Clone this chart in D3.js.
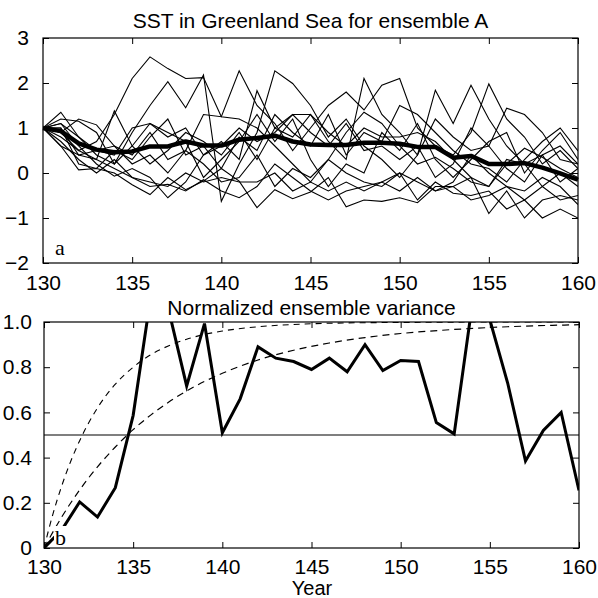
<!DOCTYPE html>
<html>
<head>
<meta charset="utf-8">
<script src="https://cdn.jsdelivr.net/npm/d3@7.9.0/dist/d3.min.js"></script>
<style>
  body { margin: 0; background: #fff; }
  svg { display: block; }
  .tick text { font-family: "Liberation Sans", Arial, sans-serif; font-size: 21px; fill: #000; }
  .domain { display: none; }
</style>
</head>
<body>
<svg id="chart" width="598" height="598"></svg>
<script>
// years 130..160
const years = d3.range(130, 161);

// ensemble members (SST anomaly)
const member1  = [1, 0.8, 0.5, 0.7, 1.3, 2.1, 2.58, 2.32, 2.1, 2.12, 1.25, 1.2, 1.0, 0.6, 0.2, -0.2, 0.3, 0.9, 1.35, 1.1, 0.6, 0.2, 0.35, 0.1, -0.2, -0.3, 0.2, 0.55, 0.35, 0.1, -0.1];
const member2  = [1, 1.35, 0.8, 0.4, 0.2, 0.9, 1.5, 2.03, 1.45, 2.18, -0.63, 0.2, 0.9, 2.27, 1.99, 1.5, 0.8, 1.2, 0.6, 0.3, -0.1, 0.4, 1.2, 0.8, 0.5, 0.6, 1.44, 1.3, 0.9, 0.3, 0.2];
const member3  = [1, 0.9, 1.2, 1.07, 0.6, 0.4, 0.9, 0.3, 0.5, 1.3, 1.25, 2.27, 1.5, 1.1, 0.5, 1.0, 1.5, 1.8, 1.4, 1.95, 2.1, 1.0, 0.6, 0.4, 0.9, 1.98, 1.2, 0.8, 0.2, 0.5, 0.1];
const member4  = [1, 1.1, 0.6, 0.2, -0.07, 0.1, -0.1, -0.55, -0.2, 0.4, 0.7, 0.3, 1.83, 1.0, 0.8, 1.3, 0.7, 0.3, 2.1, 1.3, 0.9, 0.4, 1.84, 1.1, 1.95, 1.2, 0.6, 0.2, -0.3, 0.0, -0.3];
const member5  = [1, 0.6, 0.07, 0.1, 0.0, -0.26, -0.48, -0.1, -0.37, -0.18, 0.1, -0.18, -0.77, -0.37, -0.57, -0.42, -0.1, -0.75, -0.6, -0.63, -0.55, -0.66, -0.3, -0.3, -0.1, -0.9, -0.4, -1.0, -0.6, -0.5, -0.6];
const member6  = [1, 0.7, 0.3, 0.0, 0.3, -0.1, -0.2, -0.3, 0.0, -0.2, -0.1, -0.2, -0.2, 0.0, -0.4, -0.2, -0.4, -0.2, -0.4, -0.2, 0.0, -0.6, -0.2, -0.45, -0.5, -0.4, -0.8, -0.6, -1.0, -0.8, -1.0];
const member7  = [1, 1.0, 0.2, 0.1, 0.5, 0.3, 0.8, 1.2, 0.4, 0.6, 0.1, 0.8, 0.5, 1.3, 0.9, 0.6, 1.3, 0.4, 0.9, 0.7, 1.5, 1.3, 0.9, 0.5, 0.2, 0.1, -0.2, 0.3, 0.7, 1.0, 0.49];
const member8  = [1, 1.2, 1.15, 0.9, 0.2, 0.6, 1.1, 0.9, 0.7, -0.1, 0.3, 0.7, 1.3, 0.7, 1.2, 0.3, -0.3, 0.2, 0.0, 0.9, 0.5, 1.1, 0.3, -0.1, 0.3, 0.7, 0.9, 0.0, 0.5, 0.9, 0.3];
const member9  = [1, 0.9, 0.5, 0.3, 1.38, 0.6, 0.2, 0.5, 0.9, 0.7, 0.4, 0.9, 0.3, 1.0, 1.3, 0.9, 0.6, 1.1, 0.5, 0.6, 0.3, 0.6, -0.1, 0.2, 1.0, 0.6, 0.1, -0.2, 0.4, 0.6, 0.2];
const member10 = [1, 1.1, 0.8, 0.5, 0.6, 0.2, 0.4, 0.0, 0.5, 0.2, -0.2, -0.1, 0.4, -0.3, 0.1, -0.1, 0.3, 0.0, -0.2, -0.3, 0.0, -0.2, -0.4, -0.2, 0.4, 0.0, -0.3, -0.4, -0.1, -0.3, -0.7];
const member11 = [1, 0.6, 0.4, 0.3, 0.1, -0.1, -0.3, -0.25, -0.4, -0.15, -0.4, -0.55, -0.3, 0.2, -0.1, -0.4, -0.6, -0.4, -0.3, -0.2, -0.4, -0.1, -0.4, -0.3, -0.6, -0.5, -0.3, -0.6, -0.3, -0.6, -0.5];
const member12 = [1, 1.0, 0.4, 0.5, 0.4, 1.0, 1.1, 0.8, 1.0, 0.4, 0.6, 1.0, 0.7, 0.9, 1.3, 1.3, 0.9, 0.6, 1.0, 0.8, 0.8, 0.9, 0.7, 0.3, -0.1, -0.3, 0.3, 0.2, 0.4, -0.2, 0.1];
const members = [member1, member2, member3, member4, member5, member6, member7, member8, member9, member10, member11, member12];

// ensemble mean (thick line)
const ensMean = [1.0, 0.93, 0.66, 0.52, 0.46, 0.48, 0.59, 0.59, 0.70, 0.61, 0.61, 0.74, 0.78, 0.83, 0.70, 0.635, 0.62, 0.62, 0.67, 0.67, 0.65, 0.58, 0.58, 0.34, 0.38, 0.20, 0.20, 0.22, 0.12, -0.01, -0.15];

// normalized ensemble variance
const variance = [0, 0.08, 0.204, 0.137, 0.267, 0.587, 1.12, 1.05, 0.717, 0.993, 0.51, 0.66, 0.89, 0.84, 0.825, 0.79, 0.84, 0.78, 0.90, 0.785, 0.83, 0.825, 0.555, 0.505, 1.07, 1.01, 0.73, 0.385, 0.52, 0.60, 0.255];

// dashed reference curves (year, value)
const curveFastYears = [130, 130.5, 131, 131.5, 132, 133, 134, 135, 136, 137, 138, 139, 140, 142, 144, 147, 150, 155, 160];
const curveFastVals  = [0, 0.15, 0.276, 0.384, 0.475, 0.62, 0.725, 0.80, 0.856, 0.895, 0.924, 0.945, 0.96, 0.979, 0.989, 0.996, 0.998, 1.0, 1.0];
const curveSlowYears = [130, 131, 132, 133, 134, 135, 136, 137, 138, 139, 140, 142, 144, 146, 148, 150, 153, 156, 160];
const curveSlowVals  = [0, 0.138, 0.257, 0.359, 0.447, 0.524, 0.589, 0.646, 0.695, 0.737, 0.773, 0.832, 0.875, 0.907, 0.931, 0.949, 0.967, 0.979, 0.988];

const xTicks = [130, 135, 140, 145, 150, 155, 160];
const yTicksTop = [-2, -1, 0, 1, 2, 3];
const yTicksBot = [0, 0.2, 0.4, 0.6, 0.8, 1.0];

const svg = d3.select("#chart");

// ---------- panel a ----------
const xA = d3.scaleLinear().domain([130, 160]).range([43, 578]);
const yA = d3.scaleLinear().domain([-2, 3]).range([263, 38]);

const gA = svg.append("g");
gA.append("clipPath").attr("id", "clipA")
  .append("rect").attr("x", 43).attr("y", 38).attr("width", 535).attr("height", 225);

const lineA = d3.line().x((d, i) => xA(years[i])).y(d => yA(d));

gA.append("g").attr("clip-path", "url(#clipA)")
  .selectAll("path.member")
  .data(members)
  .enter()
  .append("path")
  .attr("class", "member")
  .attr("d", lineA)
  .attr("fill", "none")
  .attr("stroke", "#000")
  .attr("stroke-width", 1.1)
  .attr("stroke-linejoin", "miter");

gA.append("path")
  .attr("d", lineA(ensMean))
  .attr("fill", "none")
  .attr("stroke", "#000")
  .attr("stroke-width", 4.5)
  .attr("stroke-linejoin", "round");

// axes with inward ticks
gA.append("g").attr("transform", `translate(0,${yA(-2)})`)
  .call(d3.axisBottom(xA).tickValues(xTicks).tickSizeInner(-6).tickSizeOuter(0).tickPadding(12));
gA.append("g").attr("transform", `translate(0,${yA(3)})`)
  .call(d3.axisTop(xA).tickValues(xTicks).tickSizeInner(-6).tickSizeOuter(0).tickFormat(""));
gA.append("g").attr("transform", `translate(${xA(130)},0)`)
  .call(d3.axisLeft(yA).tickValues(yTicksTop).tickSizeInner(-6).tickSizeOuter(0).tickPadding(14).tickFormat(d3.format("d")));
gA.append("g").attr("transform", `translate(${xA(160)},0)`)
  .call(d3.axisRight(yA).tickValues(yTicksTop).tickSizeInner(-6).tickSizeOuter(0).tickFormat(""));

gA.append("rect")
  .attr("x", xA(130)).attr("y", yA(3))
  .attr("width", xA(160) - xA(130)).attr("height", yA(-2) - yA(3))
  .attr("fill", "none").attr("stroke", "#000").attr("stroke-width", 1.2);

svg.append("text")
  .attr("x", (xA(130) + xA(160)) / 2).attr("y", 28)
  .attr("text-anchor", "middle")
  .style("font-family", "Liberation Sans, Arial, sans-serif")
  .style("font-size", "21px")
  .text("SST in Greenland Sea for ensemble A");

svg.append("text")
  .attr("x", 55).attr("y", 255)
  .style("font-family", "Liberation Serif, Times New Roman, serif")
  .style("font-size", "22px")
  .text("a");

// ---------- panel b ----------
const xB = d3.scaleLinear().domain([130, 160]).range([44, 579]);
const yB = d3.scaleLinear().domain([0, 1]).range([548, 322]);

const gB = svg.append("g");
gB.append("clipPath").attr("id", "clipB")
  .append("rect").attr("x", 44).attr("y", 322).attr("width", 535).attr("height", 226);

const plotB = gB.append("g").attr("clip-path", "url(#clipB)");

plotB.append("line")
  .attr("x1", xB(130)).attr("x2", xB(160))
  .attr("y1", yB(0.5)).attr("y2", yB(0.5))
  .attr("stroke", "#000").attr("stroke-width", 1.1);

const curveLine = (ys, vs) => d3.line().x((d, i) => xB(ys[i])).y(d => yB(d)).curve(d3.curveMonotoneX)(vs);

plotB.append("path")
  .attr("d", curveLine(curveFastYears, curveFastVals))
  .attr("fill", "none").attr("stroke", "#000").attr("stroke-width", 1.1)
  .attr("stroke-dasharray", "6,5");
plotB.append("path")
  .attr("d", curveLine(curveSlowYears, curveSlowVals))
  .attr("fill", "none").attr("stroke", "#000").attr("stroke-width", 1.2)
  .attr("stroke-dasharray", "7,5");

plotB.append("path")
  .attr("d", d3.line().x((d, i) => xB(years[i])).y(d => yB(d))(variance))
  .attr("fill", "none")
  .attr("stroke", "#000")
  .attr("stroke-width", 3)
  .attr("stroke-linejoin", "miter");

gB.append("g").attr("transform", `translate(0,${yB(0)})`)
  .call(d3.axisBottom(xB).tickValues(xTicks).tickSizeInner(-6).tickSizeOuter(0).tickPadding(11));
gB.append("g").attr("transform", `translate(0,${yB(1)})`)
  .call(d3.axisTop(xB).tickValues(xTicks).tickSizeInner(-6).tickSizeOuter(0).tickFormat(""));
gB.append("g").attr("transform", `translate(${xB(130)},0)`)
  .call(d3.axisLeft(yB).tickValues(yTicksBot).tickSizeInner(-6).tickSizeOuter(0).tickPadding(12)
    .tickFormat(d => d === 0 ? "0" : d3.format(".1f")(d)));
gB.append("g").attr("transform", `translate(${xB(160)},0)`)
  .call(d3.axisRight(yB).tickValues(yTicksBot).tickSizeInner(-6).tickSizeOuter(0).tickFormat(""));

gB.append("rect")
  .attr("x", xB(130)).attr("y", yB(1))
  .attr("width", xB(160) - xB(130)).attr("height", yB(0) - yB(1))
  .attr("fill", "none").attr("stroke", "#000").attr("stroke-width", 1.2);

// label b with white box behind
gB.append("rect").attr("x", 54).attr("y", 526).attr("width", 16).attr("height", 20).attr("fill", "#fff");
gB.append("text")
  .attr("x", 55).attr("y", 545)
  .style("font-family", "Liberation Serif, Times New Roman, serif")
  .style("font-size", "22px")
  .text("b");

svg.append("text")
  .attr("x", (xB(130) + xB(160)) / 2).attr("y", 315)
  .attr("text-anchor", "middle")
  .style("font-family", "Liberation Sans, Arial, sans-serif")
  .style("font-size", "21px")
  .text("Normalized ensemble variance");

svg.append("text")
  .attr("x", 312).attr("y", 595)
  .attr("text-anchor", "middle")
  .style("font-family", "Liberation Sans, Arial, sans-serif")
  .style("font-size", "20px")
  .text("Year");
</script>
</body>
</html>
